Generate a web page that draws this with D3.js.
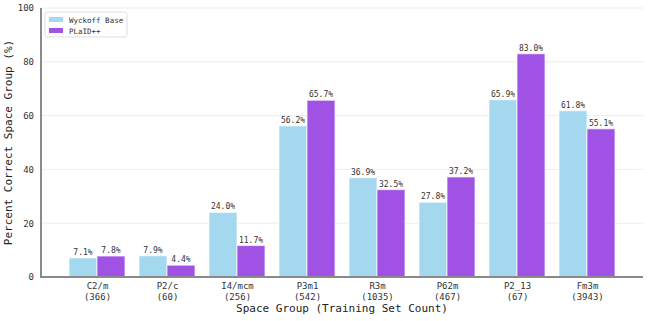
<!DOCTYPE html>
<html>
<head>
<meta charset="utf-8">
<script src="https://cdn.jsdelivr.net/npm/d3@7"></script>
<style>
  body { margin: 0; background: #fff; }
  svg { display: block; font-family: "DejaVu Sans Mono", "Liberation Mono", monospace; }
</style>
</head>
<body>
<svg id="chart" width="648" height="321"></svg>
<script>
const groups = ['C2/m', 'P2/c', 'I4/mcm', 'P3m1', 'R3m', 'P62m', 'P2_13', 'Fm3m'];
const counts = [366, 60, 256, 542, 1035, 467, 67, 3943];
const wyckoff = [7.1, 7.9, 24.0, 56.2, 36.9, 27.8, 65.9, 61.8];
const plaid = [7.8, 4.4, 11.7, 65.7, 32.5, 37.2, 83.0, 55.1];
const yTicks = [0, 20, 40, 60, 80, 100];

const series = [
  {name: 'Wyckoff Base', values: wyckoff, color: '#a3d8ee', offset: -0.2},
  {name: 'PLaID++', values: plaid, color: '#a052e5', offset: 0.2},
];
const barW = 0.4;

const plotLeft = 41;
const plotRight = 643;
const plotTop = 8;
const plotBottom = 277;

const svg = d3.select('#chart');

const x = d3.scaleLinear().domain([-0.8, 7.8]).range([plotLeft, plotRight]);
const y = d3.scaleLinear().domain([0, 100]).range([plotBottom, plotTop]);

// grid
svg.append('g')
    .selectAll('line')
    .data(yTicks.filter((d) => d > 0))
    .join('line')
    .attr('x1', plotLeft)
    .attr('x2', plotRight)
    .attr('y1', (d) => y(d))
    .attr('y2', (d) => y(d))
    .attr('stroke', '#ececec')
    .attr('stroke-width', 1);

// bars
series.forEach((s) => {
  const g = svg.append('g');
  g.selectAll('rect')
      .data(s.values)
      .join('rect')
      .attr('x', (d, i) => x(i + s.offset - barW / 2))
      .attr('width', x(barW) - x(0))
      .attr('y', (d) => y(d))
      .attr('height', (d) => y(0) - y(d))
      .attr('fill', s.color)
      .attr('stroke', '#ffffff')
      .attr('stroke-opacity', 0.6)
      .attr('stroke-width', 1.2);
  g.selectAll('text')
      .data(s.values)
      .join('text')
      .attr('x', (d, i) => x(i + s.offset))
      .attr('y', (d) => y(d) - 3)
      .attr('text-anchor', 'middle')
      .attr('font-size', 8)
      .attr('fill', '#333')
      .text((d) => d.toFixed(1) + '%');
});

// y axis
const yAxis = d3.axisLeft(y).tickValues(yTicks).tickSize(0).tickPadding(7);
const gy = svg.append('g')
    .attr('transform', `translate(${plotLeft},0)`)
    .call(yAxis);
gy.select('.domain').remove();
gy.selectAll('text').attr('font-size', 9).attr('fill', '#333')
    .style('font-family', '"DejaVu Sans Mono", monospace');

// x axis, two-line labels
const xAxis = d3.axisBottom(x).tickValues(d3.range(groups.length)).tickSize(0).tickFormat('');
const gx = svg.append('g')
    .attr('transform', `translate(0,${plotBottom})`)
    .call(xAxis);
gx.select('.domain').remove();
gx.selectAll('.tick').each(function(d) {
  const t = d3.select(this).append('text')
      .attr('text-anchor', 'middle')
      .attr('fill', '#333')
      .attr('font-size', 9)
      .style('font-family', '"DejaVu Sans Mono", monospace');
  t.append('tspan').attr('x', 0).attr('y', 12).text(groups[d]);
  t.append('tspan').attr('x', 0).attr('y', 23).text(`(${counts[d]})`);
});

// spines
svg.append('line')
    .attr('x1', plotLeft).attr('x2', plotLeft)
    .attr('y1', plotTop).attr('y2', plotBottom + 1)
    .attr('stroke', '#8a8a8a').attr('stroke-width', 2);
svg.append('line')
    .attr('x1', plotLeft - 1).attr('x2', plotRight)
    .attr('y1', plotBottom).attr('y2', plotBottom)
    .attr('stroke', '#8a8a8a').attr('stroke-width', 2);

// axis titles
svg.append('text')
    .attr('x', (plotLeft + plotRight) / 2)
    .attr('y', 312)
    .attr('text-anchor', 'middle')
    .attr('font-size', 11)
    .attr('fill', '#222')
    .text('Space Group (Training Set Count)');
svg.append('text')
    .attr('transform', `translate(12,${(plotTop + plotBottom) / 2}) rotate(-90)`)
    .attr('text-anchor', 'middle')
    .attr('font-size', 11)
    .attr('fill', '#222')
    .text('Percent Correct Space Group (%)');

// legend
const legend = svg.append('g').attr('transform', 'translate(45,12)');
legend.append('rect')
    .attr('width', 82).attr('height', 25)
    .attr('rx', 2)
    .attr('fill', '#fff')
    .attr('stroke', '#ddd');
const item = legend.selectAll('g.item')
    .data(series)
    .join('g')
    .attr('class', 'item')
    .attr('transform', (d, i) => `translate(4,${4 + i * 11})`);
item.append('rect')
    .attr('width', 14).attr('height', 5)
    .attr('y', 1)
    .attr('fill', (d) => d.color);
item.append('text')
    .attr('x', 20)
    .attr('y', 6.5)
    .attr('font-size', 7.5)
    .attr('fill', '#333')
    .text((d) => d.name);
</script>
</body>
</html>
